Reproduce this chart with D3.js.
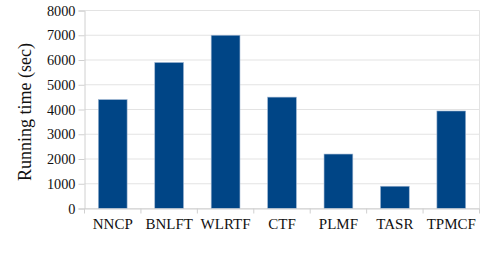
<!DOCTYPE html>
<html><head><meta charset="utf-8">
<script src="https://cdn.jsdelivr.net/npm/d3@7"></script>
<style>body{margin:0;background:#fff} text{font-family:"Liberation Serif","Times New Roman",Tinos,"DejaVu Serif",serif !important;}</style>
</head><body>
<svg id="c" width="498" height="256"></svg>
<script>
const categories = ["NNCP","BNLFT","WLRTF","CTF","PLMF","TASR","TPMCF"];
const values = [4400, 5900, 7000, 4500, 2200, 900, 3940];
const yTicks = [0,1000,2000,3000,4000,5000,6000,7000,8000];
const yLabel = "Running time (sec)";

const svg = d3.select("#c");
const m = {l:84.5, r:479.5, t:10.5, b:208.5};
const x = d3.scaleBand().domain(categories).range([m.l, m.r]).paddingInner(0.49).paddingOuter(0.245);
const y = d3.scaleLinear().domain([0, 8000]).range([m.b, m.t]);
const grid = "#e3e3e3", axisC = "#d0d0d0";

svg.append("g").selectAll("line").data(yTicks).join("line")
  .attr("x1", m.l).attr("x2", m.r).attr("y1", d=>y(d)).attr("y2", d=>y(d))
  .attr("stroke", grid).attr("stroke-width", 1);
svg.append("line").attr("x1", m.r).attr("x2", m.r).attr("y1", m.t).attr("y2", m.b)
  .attr("stroke", grid);

svg.append("g").selectAll("rect").data(values).join("rect")
  .attr("x", (d,i)=>x(categories[i])).attr("width", x.bandwidth())
  .attr("y", d=>y(d)).attr("height", d=>y(0)-y(d))
  .attr("fill", "#004586").attr("stroke", "#9fb6d2").attr("stroke-width", 0.6);

const ya = svg.append("g").attr("transform", `translate(${m.l},0)`)
  .call(d3.axisLeft(y).tickValues(yTicks).tickSize(6).tickPadding(3).tickFormat(d3.format("d")));
ya.attr("font-family", null);
ya.select(".domain").attr("stroke", axisC);
ya.selectAll(".tick line").attr("stroke", axisC);
ya.selectAll("text").attr("font-size", 14.3).attr("fill", "#111");

const xa = svg.append("g").attr("transform", `translate(0,${m.b})`)
  .call(d3.axisBottom(x).tickSize(0).tickPadding(10));
xa.attr("font-family", null);
xa.select(".domain").attr("stroke", axisC);
xa.selectAll("text").attr("font-size", 15).attr("fill", "#111");
const bounds = d3.range(categories.length + 1).map(i => m.l + i * x.step());
svg.append("g").selectAll("line").data(bounds).join("line")
  .attr("x1", d=>d).attr("x2", d=>d).attr("y1", m.b).attr("y2", m.b + 5)
  .attr("stroke", axisC);

svg.append("text").attr("transform", `translate(31,112) rotate(-90)`)
  .attr("text-anchor", "middle").attr("font-size", 18).attr("fill", "#111")
  .text(yLabel);
</script>
</body></html>
